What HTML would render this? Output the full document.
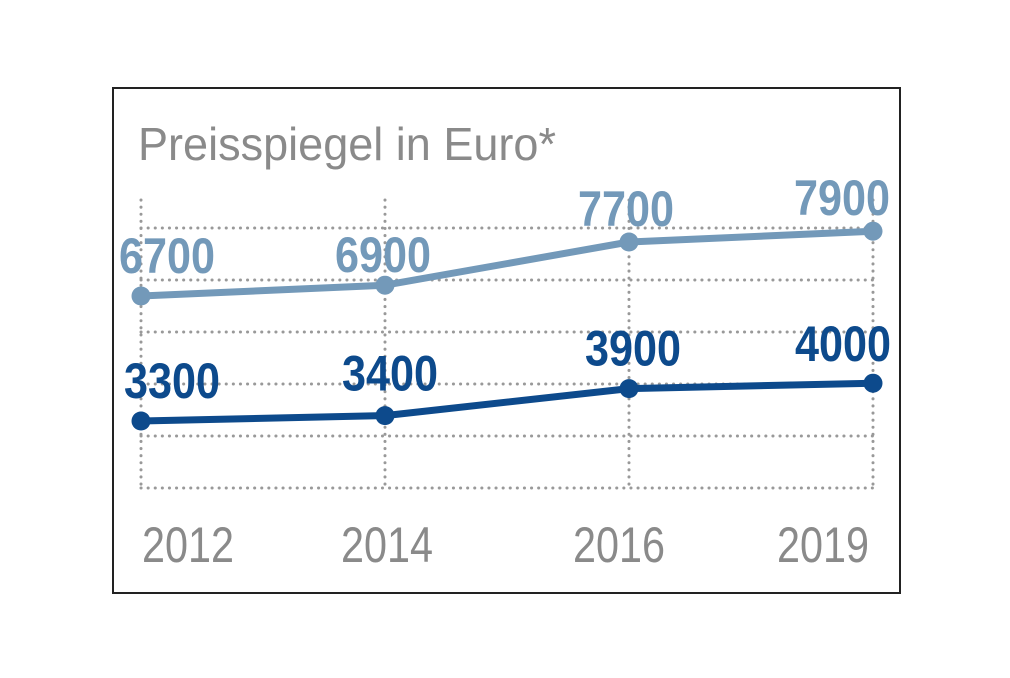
<!DOCTYPE html>
<html><head><meta charset="utf-8"><style>
body{margin:0;background:#fff;width:1010px;height:673px;overflow:hidden}
svg text{font-family:"Liberation Sans Narrow","Liberation Sans",sans-serif}
</style></head><body>
<svg id="chart" width="1010" height="673">
<rect x="113" y="88" width="787" height="505" fill="#fff" stroke="#222" stroke-width="2"/>
<text x="138" y="160" font-size="46" fill="#8a8a8a" textLength="418" lengthAdjust="spacingAndGlyphs">Preisspiegel in Euro*</text>
<g id="grid"></g><g id="series"></g><g id="labels"></g>
</svg>
<script>
const years=["2012","2014","2016","2019"];
const highValues=[6700,6900,7700,7900];
const lowValues=[3300,3400,3900,4000];
const gridYs=[228,280,332,384,436,488];
const NS="http://www.w3.org/2000/svg";
function x(i){return 141+i*(873-141)/(years.length-1);}
function y(v){return v<5000?421-(v-3300)*0.054:296-(v-6700)*0.054;}
function mk(tag,attrs,parent){const e=document.createElementNS(NS,tag);for(const k in attrs)e.setAttribute(k,attrs[k]);parent.appendChild(e);return e;}
const grid=document.getElementById('grid'),ser=document.getElementById('series'),lab=document.getElementById('labels');
gridYs.forEach(gy=>{const l=mk('line',{x1:141,x2:873,y1:gy,y2:gy,stroke:'#999','stroke-width':3,'stroke-linecap':'round','stroke-dasharray':'0.1 7'},grid);

});
years.forEach((yr,i)=>{const l=mk('line',{x1:x(i),x2:x(i),y1:200,y2:488,stroke:'#999','stroke-width':3,'stroke-linecap':'round','stroke-dasharray':'0.1 7'},grid);


const t=mk('text',{x:x(i)+[47,2,-10,-50][i],y:562,'font-size':50,fill:'#8a8a8a','text-anchor':'middle',textLength:92,lengthAdjust:'spacingAndGlyphs'},lab);t.textContent=yr;

});
function drawSeries(vals,color,name,dx,dy){
const pts=vals.map((v,i)=>x(i)+','+y(v)).join(' ');
const pl=mk('polyline',{points:pts,fill:'none',stroke:color,'stroke-width':7,'stroke-linejoin':'round'},ser);


vals.forEach((v,i)=>{const c=mk('circle',{cx:x(i),cy:y(v),r:9.5,fill:color},ser);


const t=mk('text',{x:x(i)+dx[i],y:y(v)+dy[i],'font-size':50,'font-weight':'bold',fill:color,'text-anchor':'middle',textLength:96,lengthAdjust:'spacingAndGlyphs'},lab);t.textContent=v;

});}
drawSeries(highValues,'#7399b9','high-series',[26,-2,-3,-31],[-23,-13,-16,-16]);
drawSeries(lowValues,'#0d4a8c','low-series',[31,5,4,-30],[-23,-25,-23,-22]);
</script>
</body></html>
